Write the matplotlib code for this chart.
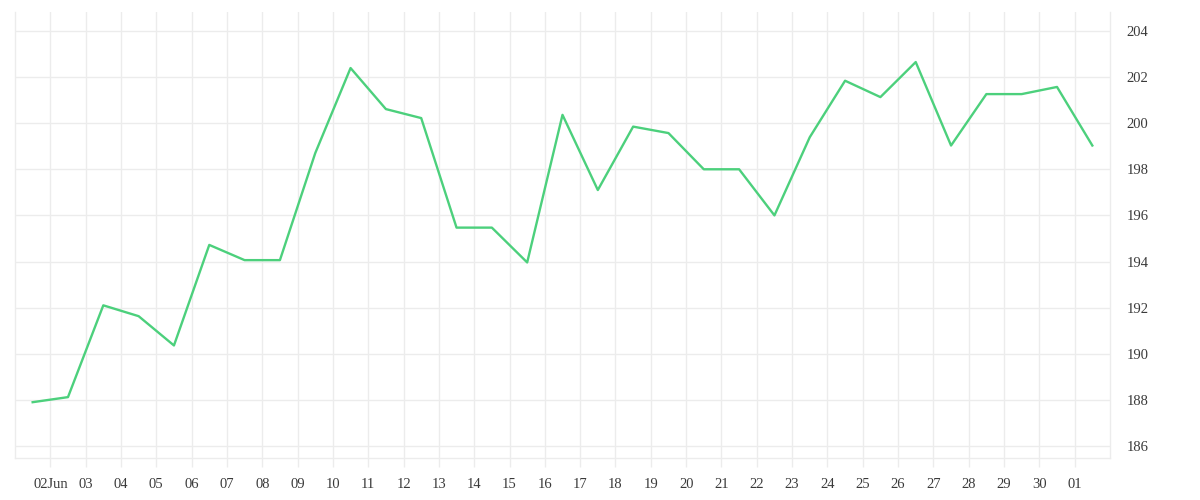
import matplotlib
matplotlib.use("Agg")
import matplotlib.pyplot as plt
import pandas as pd

# one point per day, drawn at noon (June 1 .. July 1)
days = pd.date_range("2023-06-01 12:00", "2023-07-01 12:00", freq="D")
values = [
    187.90, 188.12, 192.10, 191.63, 190.36, 194.72, 194.06, 194.06,
    198.70, 202.39, 200.61, 200.22, 195.47, 195.47, 193.96, 200.36,
    197.10, 199.85, 199.57, 198.00, 198.00, 196.00, 199.39, 201.84,
    201.13, 202.65, 199.03, 201.26, 201.26, 201.57, 199.03,
]

# midnight ticks with labels
tick_days = pd.date_range("2023-06-02", "2023-07-01", freq="D")
tick_labels = ["02Jun"] + [d.strftime("%d") for d in tick_days[1:]]
y_ticks = [186, 188, 190, 192, 194, 196, 198, 200, 202, 204]

grid_color = "#ececec"
text_color = "#3a3a3a"
line_color = "#4cd07c"

plt.rcParams["font.family"] = ["Liberation Serif", "DejaVu Serif"]

fig = plt.figure(figsize=(12, 5), dpi=100)
ax = fig.add_axes([15 / 1200, 1 - 458 / 500, 1095 / 1200, 446 / 500])

ax.plot(days, values, color=line_color, linewidth=1.7, zorder=3)

ax.set_xlim(pd.Timestamp("2023-06-01"), pd.Timestamp("2023-07-02"))
ax.set_ylim(185.48, 204.82)

ax.set_xticks(tick_days)
ax.set_xticklabels(tick_labels)
ax.yaxis.tick_right()
ax.set_yticks(y_ticks)
ax.set_yticklabels([str(v) for v in y_ticks])

ax.grid(True, color=grid_color, linewidth=1)
ax.set_axisbelow(True)

for side in ["left", "right", "bottom"]:
    ax.spines[side].set_color(grid_color)
    ax.spines[side].set_linewidth(1)
ax.spines["top"].set_visible(False)

ax.tick_params(axis="x", length=6.5, width=1, color=grid_color,
               labelcolor=text_color, labelsize=10.5, pad=8)
ax.tick_params(axis="y", length=0, labelcolor=text_color,
               labelsize=10.5, pad=12)

fig.savefig("out.png", dpi=100, facecolor="white")
